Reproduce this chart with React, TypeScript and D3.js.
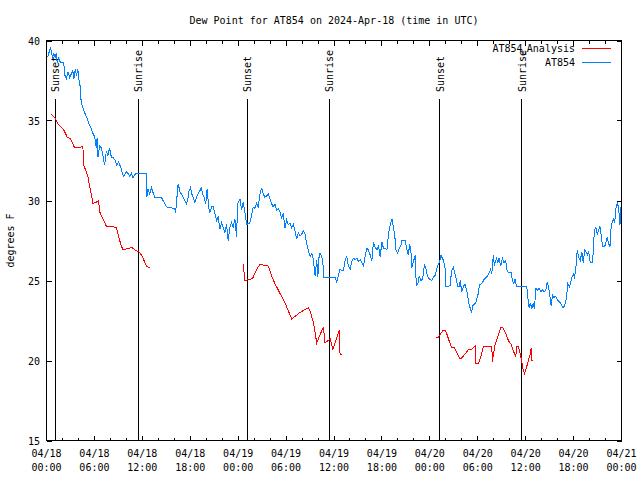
import React from "react";
import * as d3 from "d3";

const title = "Dew Point for AT854 on 2024-Apr-18 (time in UTC)";
const yLabel = "degrees F";
const yTicks = [15, 20, 25, 30, 35, 40];
const xTickHours = [0, 6, 12, 18, 24, 30, 36, 42, 48, 54, 60, 66, 72];
const xTickDates = ["04/18", "04/18", "04/18", "04/18", "04/19", "04/19", "04/19", "04/19", "04/20", "04/20", "04/20", "04/20", "04/21"];
const xTickTimes = ["00:00", "06:00", "12:00", "18:00", "00:00", "06:00", "12:00", "18:00", "00:00", "06:00", "12:00", "18:00", "00:00"];
const xMinorHours = [2, 4, 8, 10, 14, 16, 20, 22, 26, 28, 32, 34, 38, 40, 44, 46, 50, 52, 56, 58, 62, 64, 68, 70];

const sunLabels = ["Sunset", "Sunrise", "Sunset", "Sunrise", "Sunset", "Sunrise"];
const sunHours = [1.09, 11.46, 25.13, 35.42, 49.22, 59.51];

const seriesNames = ["AT854_Analysis", "AT854"];
const seriesColors = ["#ff0000", "#0080ff"];

// Observations (hours since 04/18 00:00 UTC, degrees F)
const obsHours = [
  0.16, 0.5, 0.75, 0.92, 1.09, 1.22, 1.34, 1.51, 1.76, 2.17, 2.26, 2.47, 2.67, 2.76, 2.89, 3.1, 3.3, 3.43, 3.6, 3.76,
  3.93, 4.02, 4.18, 4.27, 4.35, 4.55, 4.77, 5.11, 5.4, 5.61, 5.81, 6.02, 6.15, 6.24, 6.34, 6.44, 6.65, 6.86, 7.06, 7.28,
  7.49, 7.69, 7.9, 8.12, 8.32, 8.62, 8.78, 9.03, 9.28, 9.45, 9.62, 9.79, 10.0, 10.2, 10.41, 10.63, 10.83, 11.04, 11.25, 12.51,
  12.55, 12.71, 12.92, 13.14, 13.34, 13.55, 14.39, 14.59, 14.81, 15.02, 16.06, 16.15, 16.27, 16.4, 16.48, 16.6, 16.72, 16.9, 17.1, 17.31,
  17.53, 17.73, 17.85, 18.03, 18.2, 18.36, 18.57, 18.78, 18.98, 19.19, 19.41, 19.53, 19.74, 19.91, 20.04, 20.11, 20.24, 20.41, 20.67, 20.87,
  21.08, 21.29, 21.49, 21.71, 21.92, 22.12, 22.33, 22.55, 22.75, 22.96, 23.17, 23.37, 23.59, 23.8, 23.93, 24.03, 24.22, 24.43, 24.63, 24.84,
  25.05, 25.47, 25.68, 25.88, 26.1, 26.31, 26.51, 26.73, 26.94, 27.14, 27.35, 27.57, 27.77, 27.98, 28.19, 28.39, 28.61, 28.82, 29.02, 29.23,
  29.45, 29.65, 29.86, 30.07, 30.28, 30.49, 30.7, 30.9, 31.12, 31.33, 31.53, 31.74, 31.96, 32.16, 32.37, 32.58, 32.79, 33.0, 33.21, 33.41,
  33.63, 33.84, 33.97, 34.13, 34.25, 34.47, 34.67, 34.69, 36.14, 36.35, 36.55, 36.76, 36.98, 37.18, 37.39, 37.6, 37.8, 38.02, 38.23, 38.43,
  38.65, 38.86, 39.06, 39.27, 39.49, 39.69, 39.9, 40.11, 40.31, 40.53, 40.74, 40.94, 41.15, 41.37, 41.57, 41.78, 42.0, 42.2, 42.41, 42.62,
  42.82, 43.04, 43.25, 43.45, 43.63, 43.75, 43.95, 44.17, 44.38, 44.51, 44.71, 44.92, 45.13, 45.33, 45.46, 45.63, 45.76, 45.96, 46.17, 46.3,
  46.51, 46.68, 46.89, 47.09, 47.34, 47.52, 47.68, 47.93, 48.22, 48.43, 48.65, 48.85, 49.06, 49.27, 49.4, 49.56, 49.72, 49.9, 49.97, 50.31,
  50.53, 50.73, 50.94, 51.15, 51.36, 51.48, 51.66, 51.82, 51.98, 52.19, 52.41, 52.61, 52.73, 52.91, 53.11, 53.24, 53.36, 53.54, 53.74, 53.95,
  54.08, 54.2, 54.42, 54.62, 54.83, 55.04, 55.25, 55.46, 55.62, 55.75, 55.96, 56.09, 56.21, 56.37, 56.5, 56.67, 56.88, 57.09, 57.3, 57.5,
  57.68, 57.84, 58.18, 58.34, 58.51, 58.68, 58.85, 60.14, 60.26, 60.44, 60.6, 60.77, 60.94, 61.1, 61.27, 61.48, 61.7, 61.9, 62.11, 62.32,
  62.52, 62.7, 62.86, 63.02, 63.2, 63.36, 63.53, 63.78, 64.03, 64.37, 64.62, 64.87, 65.12, 65.28, 65.46, 65.62, 65.78, 65.96, 66.12, 66.29,
  66.46, 66.66, 66.84, 67.04, 67.21, 67.38, 67.54, 67.72, 67.88, 68.09, 68.38, 68.54, 68.63, 68.8, 68.97, 69.13, 69.3, 69.47, 69.64, 69.89,
  70.05, 70.22, 70.39, 70.56, 70.64, 70.81, 70.98, 71.14, 71.31, 71.48, 71.64, 71.81, 71.9,
];
const obsValues = [
  38.96, 39.6, 38.96, 39.2, 38.9, 39.2, 38.6, 38.9, 38.6, 38.6, 37.9, 37.6, 38.0, 38.0, 37.7, 37.9, 38.1, 37.6, 38.2, 37.8,
  38.2, 37.6, 37.3, 36.7, 36.1, 35.8, 35.5, 35.1, 34.7, 34.5, 34.2, 34.0, 33.6, 33.3, 33.9, 32.7, 33.4, 33.3, 32.8, 32.2,
  33.1, 32.8, 33.3, 32.7, 32.7, 32.5, 32.2, 32.4, 32.1, 31.8, 31.5, 31.6, 31.8, 31.7, 31.5, 31.7, 31.4, 31.6, 31.7, 31.7,
  30.2, 30.7, 30.4, 30.8, 30.5, 30.2, 30.2, 30.0, 29.8, 29.6, 29.5, 29.2, 29.8, 30.6, 31.0, 30.8, 30.5, 30.4, 30.2, 30.0,
  29.8, 30.2, 30.6, 30.8, 30.4, 30.2, 29.9, 30.2, 30.4, 30.6, 30.8, 30.4, 30.2, 29.8, 30.2, 30.7, 30.0, 29.2, 29.6, 29.6,
  29.2, 28.75, 28.95, 28.2, 28.6, 28.3, 28.0, 28.5, 27.5, 28.3, 28.6, 28.3, 28.85, 27.7, 29.8, 29.9, 30.1, 29.4, 29.9, 29.3,
  28.5, 28.6, 29.1, 29.6, 29.5, 29.8, 29.6, 30.4, 30.8, 30.4, 30.2, 30.3, 30.4, 30.1, 29.8, 29.6, 29.8, 29.4, 29.5, 29.3,
  28.9, 29.2, 28.3, 28.8, 28.5, 28.6, 28.3, 28.5, 28.1, 27.6, 28.0, 27.8, 27.9, 28.1, 27.9, 27.3, 26.9, 26.5, 26.7, 26.3,
  25.3, 26.3, 25.2, 26.5, 26.7, 26.5, 25.8, 25.2, 25.2, 24.9, 25.3, 25.7, 25.6, 25.6, 26.25, 26.5, 25.9, 25.7, 26.2, 26.4,
  26.3, 26.4, 26.2, 26.3, 26.1, 25.9, 26.5, 27.0, 26.9, 26.6, 26.25, 27.4, 27.1, 26.9, 27.2, 26.5, 27.4, 27.0, 27.0, 26.9,
  27.9, 28.5, 28.85, 28.3, 27.7, 26.9, 26.7, 27.0, 27.2, 27.5, 27.5, 27.5, 26.9, 26.6, 27.3, 26.8, 25.8, 26.2, 26.6, 24.7,
  24.8, 25.3, 25.0, 25.1, 26.0, 25.7, 25.3, 25.1, 25.0, 25.2, 25.3, 25.7, 26.0, 26.25, 26.6, 26.4, 26.25, 25.8, 24.6, 24.6,
  24.7, 25.6, 25.8, 25.4, 25.0, 24.6, 24.6, 25.0, 24.3, 24.6, 24.8, 24.4, 24.1, 23.5, 23.2, 23.0, 23.4, 23.5, 23.6, 24.0,
  24.2, 24.7, 24.8, 24.9, 25.1, 25.2, 25.3, 25.5, 25.7, 25.4, 26.6, 25.9, 26.2, 26.4, 26.1, 26.4, 25.9, 26.4, 26.1, 26.25,
  25.6, 25.5, 25.5, 25.0, 24.8, 25.1, 24.6, 24.6, 23.95, 23.3, 23.6, 23.2, 23.6, 23.2, 24.5, 24.4, 24.5, 24.3, 24.4, 24.3,
  24.4, 24.9, 24.6, 24.1, 23.4, 24.1, 23.95, 24.0, 23.75, 23.6, 23.3, 23.4, 23.95, 24.8, 24.6, 24.8, 25.2, 25.4, 25.2, 25.8,
  26.9, 26.4, 26.25, 26.8, 26.1, 26.9, 26.8, 26.6, 26.8, 26.1, 26.1, 27.6, 28.2, 28.3, 27.9, 28.1, 28.4, 27.8, 27.1, 27.1,
  27.4, 27.7, 27.3, 27.1, 28.1, 28.6, 28.85, 28.6, 29.5, 29.9, 29.5, 28.5, 29.6,
];

// Analysis (three separate runs)
const anaHours1 = [0.59, 1.0, 1.42, 1.84, 2.17, 2.6, 3.01, 3.51, 4.14, 4.55, 4.68, 5.18, 5.4, 5.61, 5.81, 6.24, 6.52, 6.65, 7.06, 7.49, 8.12, 8.75, 8.95, 9.28, 9.57, 10.2, 10.7, 11.13, 11.54, 11.88, 12.21, 12.51, 12.92];
const anaValues1 = [35.4, 35.2, 34.8, 34.6, 34.4, 33.96, 33.85, 33.3, 33.3, 33.4, 32.2, 31.5, 30.9, 30.4, 29.8, 29.9, 30.0, 29.3, 28.85, 28.4, 28.4, 28.3, 27.9, 27.3, 26.9, 27.0, 27.05, 26.9, 26.8, 26.6, 26.25, 25.9, 25.8];
const anaHours2 = [24.63, 24.84, 25.68, 25.88, 26.31, 26.73, 27.77, 28.19, 28.61, 29.23, 29.86, 30.7, 31.74, 32.79, 33.0, 33.41, 33.84, 34.25, 34.67, 34.88, 35.51, 35.85, 36.26, 36.67, 36.76, 36.97];
const anaValues2 = [26.04, 25.0, 25.1, 25.2, 25.7, 26.0, 25.9, 25.3, 24.8, 24.2, 23.6, 22.6, 23.0, 23.3, 23.1, 22.4, 21.1, 21.6, 22.1, 21.1, 21.35, 20.7, 21.3, 21.9, 20.35, 20.35];
const anaHours3 = [48.72, 49.06, 49.4, 49.69, 49.9, 50.1, 50.4, 50.73, 51.07, 51.36, 51.78, 51.98, 52.41, 52.82, 53.24, 53.66, 53.74, 54.08, 54.42, 54.71, 55.75, 55.84, 55.96, 56.17, 56.59, 56.93, 57.21, 57.5, 57.84, 58.18, 58.47, 58.76, 58.88, 59.1, 59.31, 59.51, 59.64, 59.85, 60.06, 60.35, 60.56, 60.69, 60.77, 60.98];
const anaValues3 = [21.4, 21.45, 21.7, 21.9, 21.9, 21.7, 21.25, 20.8, 20.8, 20.5, 20.1, 20.15, 20.4, 20.67, 20.7, 20.9, 19.8, 19.8, 20.3, 20.9, 20.9, 19.9, 20.4, 20.98, 21.6, 22.1, 22.0, 21.7, 21.25, 21.0, 20.6, 20.2, 20.9, 20.9, 20.4, 20.0, 19.5, 19.2, 19.5, 20.0, 20.4, 20.8, 20.0, 20.0];

const FONT = "'DejaVu Sans Mono', monospace";

export default function App() {
  const W = 640, H = 480;
  const left = 46.5, right = 621.5, top = 40.5, bottom = 440.5;
  const x = d3.scaleLinear().domain([0, 72]).range([left, right]);
  const y = d3.scaleLinear().domain([15, 40]).range([bottom, top]);
  const line = d3.line<[number, number]>().x(d => x(d[0])).y(d => y(d[1]));

  const obs = obsHours.map((h, i) => [h, obsValues[i]] as [number, number]);
  const anaRuns = [
    anaHours1.map((h, i) => [h, anaValues1[i]] as [number, number]),
    anaHours2.map((h, i) => [h, anaValues2[i]] as [number, number]),
    anaHours3.map((h, i) => [h, anaValues3[i]] as [number, number]),
  ];

  const majorLen = 5, minorLen = 3;

  return (
    <svg width={W} height={H} style={{ position: "absolute", left: 0, top: 0, background: "#fff" }} fontFamily={FONT} fontSize={10}>
      <rect x={0} y={0} width={W} height={H} fill="#fff" />
      <text x={(left + right) / 2} y={24} textAnchor="middle">{title}</text>

      {/* y ticks */}
      {yTicks.map(v => (
        <g key={"y" + v}>
          <line x1={left} x2={left + majorLen} y1={Math.round(y(v)) + 0.5 - 0.5} y2={Math.round(y(v))} stroke="#000" shapeRendering="crispEdges" />
          <line x1={right - majorLen} x2={right} y1={Math.round(y(v))} y2={Math.round(y(v))} stroke="#000" shapeRendering="crispEdges" />
          <text x={40} y={y(v) + 4} textAnchor="end">{v}</text>
        </g>
      ))}

      {/* x ticks */}
      {xTickHours.map((h, i) => (
        <g key={"x" + h}>
          <line x1={x(h)} x2={x(h)} y1={bottom} y2={bottom - majorLen} stroke="#000" shapeRendering="crispEdges" />
          <line x1={x(h)} x2={x(h)} y1={top} y2={top + majorLen} stroke="#000" shapeRendering="crispEdges" />
          <text x={x(h)} y={457} textAnchor="middle">{xTickDates[i]}</text>
          <text x={x(h)} y={471} textAnchor="middle">{xTickTimes[i]}</text>
        </g>
      ))}
      {xMinorHours.map(h => (
        <g key={"m" + h}>
          <line x1={x(h)} x2={x(h)} y1={bottom} y2={bottom - minorLen} stroke="#000" shapeRendering="crispEdges" />
          <line x1={x(h)} x2={x(h)} y1={top} y2={top + minorLen} stroke="#000" shapeRendering="crispEdges" />
        </g>
      ))}

      <text transform={`translate(14,${(top + bottom) / 2}) rotate(-90)`} textAnchor="middle">{yLabel}</text>

      {/* sunrise / sunset markers */}
      {sunHours.map((h, i) => (
        <g key={"s" + i}>
          <line x1={x(h)} x2={x(h)} y1={99} y2={bottom} stroke="#000" shapeRendering="crispEdges" />
          <text transform={`translate(${x(h) + 4},92) rotate(-90)`} textAnchor="start">{sunLabels[i]}</text>
        </g>
      ))}

      {/* series */}
      {anaRuns.map((run, i) => (
        <path key={"a" + i} d={line(run) || ""} fill="none" stroke={seriesColors[0]} strokeWidth={1} shapeRendering="crispEdges" />
      ))}
      <path d={line(obs) || ""} fill="none" stroke={seriesColors[1]} strokeWidth={1} shapeRendering="crispEdges" />

      {/* legend */}
      <text x={575} y={52} textAnchor="end">
        AT854<tspan fontSize={7} dy={3}>u</tspan><tspan dy={-3}>Analysis</tspan>
      </text>
      <line x1={582} x2={611} y1={48.5} y2={48.5} stroke={seriesColors[0]} shapeRendering="crispEdges" />
      <text x={575} y={66} textAnchor="end">{seriesNames[1]}</text>
      <line x1={582} x2={611} y1={62.5} y2={62.5} stroke={seriesColors[1]} shapeRendering="crispEdges" />

      {/* border */}
      <rect x={left} y={top} width={right - left} height={bottom - top} fill="none" stroke="#000" shapeRendering="crispEdges" />
    </svg>
  );
}
